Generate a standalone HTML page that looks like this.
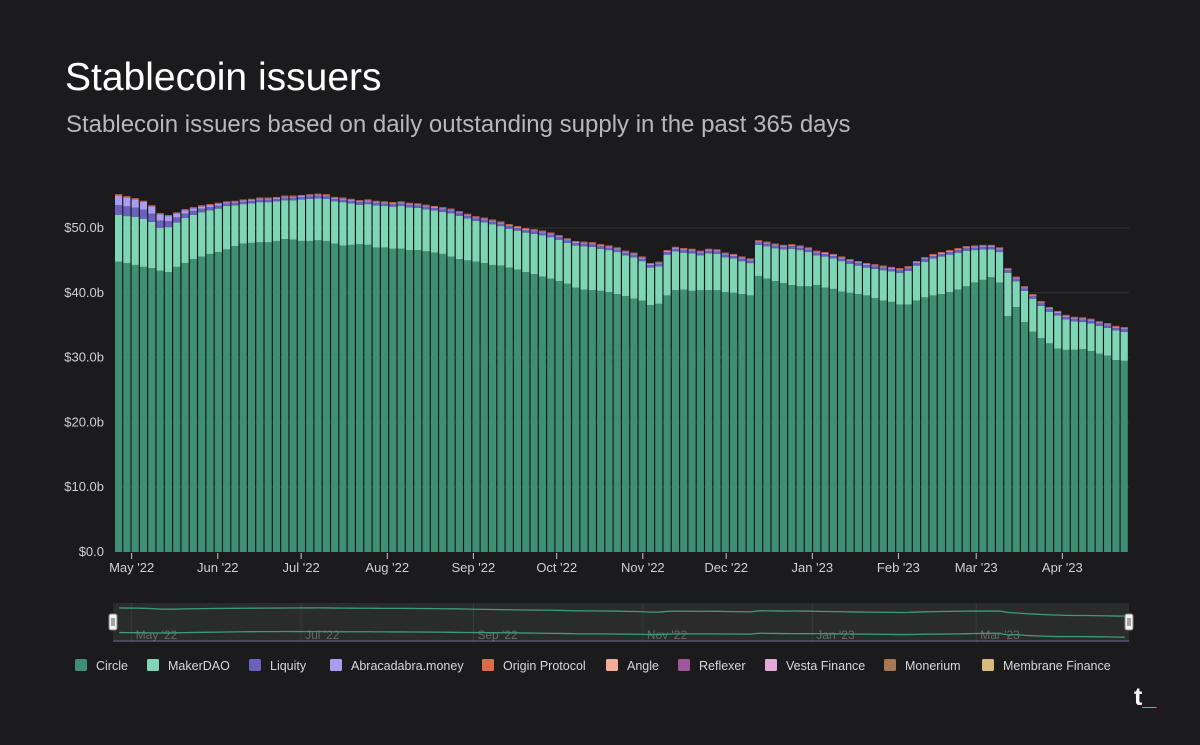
<!DOCTYPE html>
<html><head><meta charset="utf-8"><style>
html,body{margin:0;padding:0;background:#1b1b1d;}
body{width:1200px;height:745px;position:relative;overflow:hidden;font-family:"Liberation Sans",sans-serif;color:#fff;}
.t{position:absolute;white-space:nowrap;}
</style></head><body>
<div class="t" style="left:65px;top:56px;font-size:39px;color:#fff;">Stablecoin issuers</div>
<div class="t" style="left:66px;top:111px;font-size:24px;color:#b8b8b8;">Stablecoin issuers based on daily outstanding supply in the past 365 days</div>
<svg id="chart" width="1200" height="745" style="position:absolute;left:0;top:0;" xmlns="http://www.w3.org/2000/svg"></svg>
<div class="t" style="left:1134px;top:683px;font-size:25px;font-weight:bold;color:#fff;">t<span style="color:#2ed3a0">_</span></div>
<script>
const yTicks=[0,10,20,30,40,50];
const yTickLabels=["$0.0","$10.0b","$20.0b","$30.0b","$40.0b","$50.0b"];
const monthLabels=["May '22","Jun '22","Jul '22","Aug '22","Sep '22","Oct '22","Nov '22","Dec '22","Jan '23","Feb '23","Mar '23","Apr '23"];
const monthDays=[6,37,67,98,129,159,190,220,251,282,310,341];
const navLabels=["May '22","Jul '22","Sep '22","Nov '22","Jan '23","Mar '23"];
const navDays=[6,67,129,190,251,310];
const totalSupply=[55.2,54.9,54.6,54.2,53.5,52.3,52.0,52.4,52.9,53.2,53.5,53.7,53.9,54.1,54.2,54.4,54.5,54.7,54.7,54.8,55.0,55.0,55.1,55.2,55.3,55.2,54.8,54.7,54.5,54.3,54.4,54.2,54.1,54.0,54.1,53.9,53.8,53.6,53.4,53.2,53.0,52.6,52.2,51.8,51.6,51.3,51.0,50.6,50.3,50.0,49.8,49.6,49.3,48.9,48.4,48.0,47.9,47.8,47.5,47.3,47.0,46.5,46.2,45.6,44.6,44.8,46.6,47.1,46.9,46.8,46.5,46.8,46.7,46.2,46.0,45.6,45.3,48.1,47.9,47.6,47.4,47.5,47.3,47.0,46.5,46.3,46.0,45.6,45.2,44.9,44.6,44.4,44.2,44.0,43.8,44.1,44.9,45.5,46.0,46.3,46.6,46.9,47.2,47.3,47.4,47.4,47.0,43.8,42.5,41.0,39.8,38.7,37.8,37.2,36.6,36.3,36.2,36.0,35.6,35.3,34.9,34.7];
const circle=[44.8,44.6,44.3,44.0,43.8,43.4,43.2,44.0,44.6,45.2,45.6,46.0,46.3,46.7,47.2,47.6,47.7,47.8,47.8,48.0,48.3,48.2,48.0,48.0,48.1,48.0,47.6,47.3,47.4,47.5,47.4,47.0,47.0,46.8,46.8,46.6,46.6,46.4,46.2,46.0,45.6,45.2,45.0,44.8,44.6,44.3,44.2,43.9,43.6,43.2,42.9,42.5,42.2,41.8,41.4,40.8,40.5,40.4,40.3,40.1,39.8,39.5,39.1,38.8,38.1,38.3,39.6,40.4,40.5,40.3,40.4,40.4,40.4,40.1,40.0,39.8,39.6,42.6,42.2,41.8,41.5,41.2,41.0,41.0,41.2,40.8,40.6,40.2,40.0,39.8,39.6,39.2,38.8,38.6,38.2,38.2,38.8,39.3,39.6,39.8,40.1,40.5,41.0,41.6,42.0,42.4,41.6,36.4,37.8,35.5,34.0,33.0,32.2,31.4,31.2,31.2,31.3,31.0,30.6,30.3,29.6,29.5];
const liquity=[1.5,1.5,1.4,1.4,1.3,1.1,0.9,0.8,0.7,0.6,0.55,0.5,0.45].concat(Array(109).fill(0.4));
const abracadabra=[1.5,1.4,1.3,1.2,1.1,1.0,0.8,0.6,0.5,0.4,0.35,0.3,0.3].concat(Array(109).fill(0.15));
const originProtocol=Array(122).fill(0.12);
const reflexer=Array(122).fill(0.04);
const legendNames=["Circle","MakerDAO","Liquity","Abracadabra.money","Origin Protocol","Angle","Reflexer","Vesta Finance","Monerium","Membrane Finance"];
const legendColors=["#3f8f74","#7fd6b7","#6c60bd","#a99df0","#de6b48","#f2ae98","#a0569a","#e2a9d9","#a67856","#d8bb7e"];

const NS="http://www.w3.org/2000/svg";
const svg=document.getElementById('chart');
const X0=115,X1=1129,Y0=552,PXB=6.48,N=totalSupply.length;
const step=(X1-X0)/N;
const y=v=>Y0-v*PXB;
const dayX=d=>X0+d*(X1-X0)/365;
function mk(tag,attrs,parent){const e=document.createElementNS(NS,tag);for(const k in attrs)e.setAttribute(k,attrs[k]);(parent||svg).appendChild(e);return e;}
yTicks.forEach((t,i)=>{
 if(t>0){const g=mk('line',{x1:X0,x2:X1,y1:y(t),y2:y(t),stroke:'#333336','stroke-width':1});
 
 }
 const l=mk('text',{x:104,y:y(t)+4,'text-anchor':'end','font-size':13,fill:'#d0d0d0','font-family':'Liberation Sans, sans-serif'});
 l.textContent=yTickLabels[i];
 
 
});
const wm=mk('text',{x:620,y:368,'text-anchor':'middle','font-size':40,fill:'#ffffff','fill-opacity':0.04,'font-family':'Liberation Sans, sans-serif','font-weight':'bold'});
wm.textContent='token terminal_';


for(let i=0;i<N;i++){
 const x=X0+i*step,w=step-1.2;
 const maker=totalSupply[i]-circle[i]-liquity[i]-abracadabra[i]-originProtocol[i]-reflexer[i];
 const segs=[[circle[i],legendColors[0],'bar-circle'],[maker,legendColors[1],'bar-makerdao'],[liquity[i],legendColors[2],'bar-liquity'],[abracadabra[i],legendColors[3],'bar-abracadabra'],[reflexer[i],legendColors[6],'bar-reflexer'],[originProtocol[i],legendColors[4],'bar-origin-protocol']];
 let base=0;
 segs.forEach(s=>{
  const r=mk('rect',{x:x,width:w,y:y(base+s[0]),height:s[0]*PXB,fill:s[1]});
  
  
  base+=s[0];
 });
}
monthLabels.forEach((m,i)=>{
 const x=dayX(monthDays[i]);
 mk('line',{x1:x,x2:x,y1:553,y2:559,stroke:'#ccc','stroke-width':1});
 const t=mk('text',{x:x,y:572,'text-anchor':'middle','font-size':13,fill:'#d0d0d0','font-family':'Liberation Sans, sans-serif'});
 t.textContent=m;
 
 
});
const nav=mk('rect',{x:113,y:603,width:1016,height:39,fill:'#2a2c2c'});


navLabels.forEach((m,i)=>{
 const x=dayX(navDays[i]);
 mk('line',{x1:x,x2:x,y1:603,y2:642,stroke:'#3a3c3c','stroke-width':1});
 const t=mk('text',{x:x+4,y:639,'font-size':12,fill:'#6a6a6a','font-family':'Liberation Sans, sans-serif'});
 t.textContent=m;
 
 
});
let pts=totalSupply.map((v,i)=>`${X0+i*step+step/2},${630-v*0.4}`).join(' ');
mk('polyline',{points:pts,fill:'none',stroke:'#3f9a7c','stroke-width':1.3});
let pts2=circle.map((v,i)=>`${X0+i*step+step/2},${646-v*0.3}`).join(' ');
mk('polyline',{points:pts2,fill:'none',stroke:'#3f9a7c','stroke-width':1.3});
mk('line',{x1:113,x2:1129,y1:641,y2:641,stroke:'#a99df0','stroke-width':1,'stroke-opacity':0.5});
[113,1129].forEach(hx=>{
 const h=mk('rect',{x:hx-4,y:614,width:8,height:16,rx:2,fill:'#f2f2f2',stroke:'#888'});
 
 
 mk('line',{x1:hx-1,x2:hx-1,y1:618,y2:626,stroke:'#555'});
 mk('line',{x1:hx+1,x2:hx+1,y1:618,y2:626,stroke:'#555'});
});
const legX=[75,147,249,330,482,606,678,765,884,982];
legendNames.forEach((n,i)=>{
 const g=mk('g',{});
 
 
 mk('rect',{x:legX[i],y:659,width:12,height:12,rx:1.5,fill:legendColors[i]},g);
 const t=mk('text',{x:legX[i]+21,y:670,'font-size':12.5,fill:'#d8d8d8','font-family':'Liberation Sans, sans-serif'},g);
 t.textContent=n;
});
</script>
</body></html>
